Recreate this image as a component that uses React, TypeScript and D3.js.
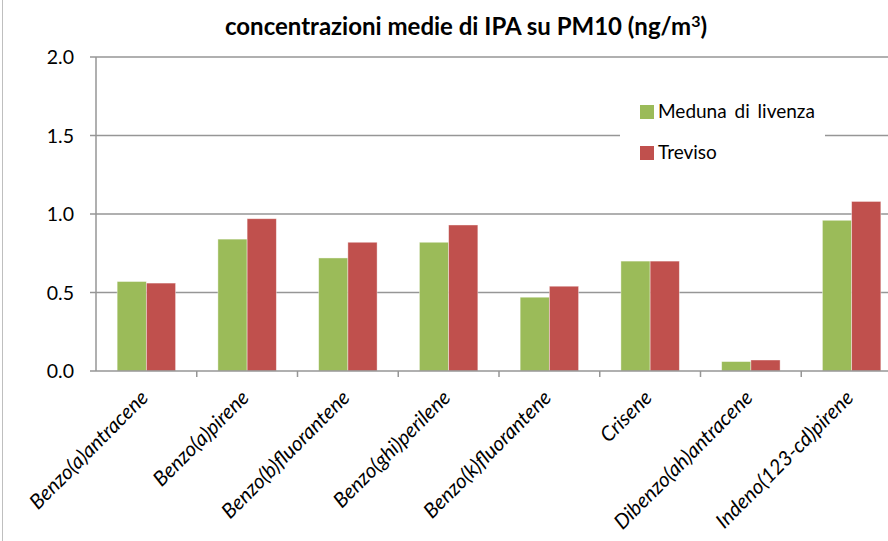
import React from 'react';
import * as d3 from 'd3';

const categories = [
  'Benzo(a)antracene',
  'Benzo(a)pirene',
  'Benzo(b)fluorantene',
  'Benzo(ghi)perilene',
  'Benzo(k)fluorantene',
  'Crisene',
  'Dibenzo(ah)antracene',
  'Indeno(123-cd)pirene',
];
const seriesNames = ['Meduna di livenza', 'Treviso'];
const meduna = [0.57, 0.84, 0.72, 0.82, 0.47, 0.70, 0.06, 0.96];
const treviso = [0.56, 0.97, 0.82, 0.93, 0.54, 0.70, 0.07, 1.08];
const yTicks = [0, 0.5, 1.0, 1.5, 2.0];
const colors = ['#9BBB59', '#C0504D'];

const W = 888;
const H = 541;
const FONT = 'Lato, "Open Sans", sans-serif';

const App: React.FC = () => {
  const plotLeft = 96;
  const step = 100.75;
  const plotRight = plotLeft + step * categories.length;

  const x0 = d3
    .scaleBand<string>()
    .domain(categories)
    .range([plotLeft, plotRight])
    .paddingInner(0.42)
    .paddingOuter(0.21);
  const x1 = d3
    .scaleBand<string>()
    .domain(seriesNames)
    .range([0, x0.bandwidth()]);
  const y = d3.scaleLinear().domain([0, 2]).range([371, 57]);

  const series = [meduna, treviso];

  return (
    <svg
      width={W}
      height={H}
      style={{ position: 'absolute', left: 0, top: 0, background: '#fff' }}
    >
      {/* outer frame */}
      <rect x={2.5} y={-2} width={W + 10} height={H + 10} fill="none" stroke="#bfbfbf" />

      {/* title */}
      <text
        x={466}
        y={35}
        textAnchor="middle"
        fontFamily={FONT}
        fontWeight="bold"
        fontSize={24}
        fill="#000"
      >
        concentrazioni medie di IPA su PM10 (ng/m<tspan dy={-8} fontSize={16}>3</tspan>
        <tspan dy={8}>)</tspan>
      </text>

      {/* gridlines */}
      {yTicks.slice(1).map((t) => (
        <line
          key={t}
          x1={plotLeft}
          x2={W}
          y1={y(t)}
          y2={y(t)}
          stroke="#969696"
          strokeWidth={1.5}
        />
      ))}

      {/* bars */}
      {categories.map((c, i) => (
        <g key={c} transform={`translate(${x0(c)},0)`}>
          {series.map((s, k) => (
            <rect
              key={k}
              x={x1(seriesNames[k])}
              y={y(s[i])}
              width={x1.bandwidth()}
              height={y(0) - y(s[i])}
              fill={colors[k]}
              stroke="rgba(255,255,255,0.5)"
              strokeWidth={0.8}
            />
          ))}
        </g>
      ))}

      {/* y axis */}
      <line x1={plotLeft} x2={plotLeft} y1={y(0)} y2={y(2)} stroke="#969696" strokeWidth={1.5} />
      {yTicks.map((t) => (
        <g key={t}>
          <line x1={plotLeft - 6} x2={plotLeft} y1={y(t)} y2={y(t)} stroke="#969696" strokeWidth={1.5} />
          <text
            x={74}
            y={y(t)}
            dy="0.36em"
            textAnchor="end"
            fontFamily={FONT}
            fontSize={19.5}
            fill="#000"
          >
            {d3.format('.1f')(t)}
          </text>
        </g>
      ))}

      {/* x axis */}
      <line x1={plotLeft} x2={W} y1={y(0)} y2={y(0)} stroke="#969696" strokeWidth={1.5} />
      {categories.map((c, i) => (
        <line
          key={c}
          x1={plotLeft + step * (i + 1)}
          x2={plotLeft + step * (i + 1)}
          y1={y(0)}
          y2={y(0) + 6}
          stroke="#969696"
          strokeWidth={1.5}
        />
      ))}
      {categories.map((c) => {
        const cx = (x0(c) ?? 0) + x0.bandwidth() / 2 + 3;
        return (
          <text
            key={c}
            transform={`translate(${cx},${399}) rotate(-45)`}
            textAnchor="end"
            fontFamily={FONT}
            fontStyle="italic"
            fontSize={20.5}
            fill="#000"
          >
            {c}
          </text>
        );
      })}

      {/* legend */}
      <rect x={620} y={96} width={205} height={74} fill="#fff" />
      {seriesNames.map((n, k) => (
        <g key={n} transform={`translate(640,${105 + k * 41})`}>
          <rect width={14} height={14} fill={colors[k]} />
          <text x={18} y={13} fontFamily={FONT} fontSize={19} wordSpacing={3} fill="#000">
            {n}
          </text>
        </g>
      ))}
    </svg>
  );
};

export default App;
